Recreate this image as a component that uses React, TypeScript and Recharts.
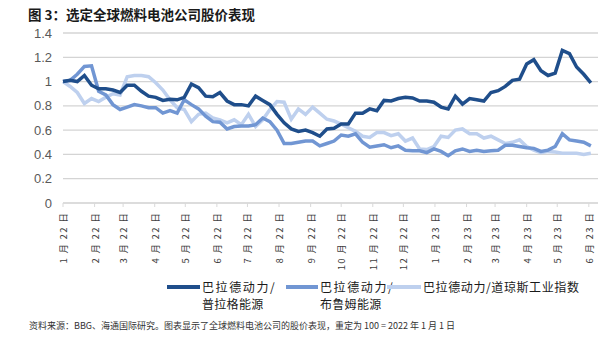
import { LineChart, Line, XAxis, YAxis, CartesianGrid } from 'recharts'

// weekly observations, x = days since 2022-01-01
const weekDays = Array.from({ length: 75 }, (_, i) => i * 7)

const plugPower = [
  1.0, 1.01, 1.0, 1.05, 0.97, 0.94, 0.94, 0.93, 0.91, 0.97,
  0.97, 0.92, 0.88, 0.87, 0.845, 0.855, 0.85, 0.87, 0.98, 0.95,
  0.88, 0.875, 0.91, 0.84, 0.81, 0.81, 0.8, 0.88, 0.845, 0.81,
  0.73, 0.66, 0.61, 0.59, 0.6, 0.58, 0.55, 0.61, 0.615, 0.65,
  0.65, 0.74, 0.74, 0.775, 0.76, 0.845, 0.84, 0.86, 0.87, 0.865,
  0.84, 0.84, 0.83, 0.79, 0.775, 0.88, 0.815, 0.86, 0.85, 0.84,
  0.91, 0.925, 0.96, 1.01, 1.02, 1.145, 1.18, 1.09, 1.05, 1.07,
  1.257, 1.23, 1.12, 1.06, 0.99,
]

const bloomEnergy = [
  1.0, 1.01, 1.06, 1.125, 1.13, 0.92, 0.89, 0.81, 0.77, 0.79,
  0.81, 0.8, 0.785, 0.785, 0.74, 0.76, 0.74, 0.85, 0.81, 0.775,
  0.715, 0.67, 0.665, 0.61, 0.63, 0.635, 0.635, 0.645, 0.7, 0.67,
  0.6, 0.49, 0.49, 0.5, 0.51, 0.51, 0.47, 0.49, 0.51, 0.56,
  0.55, 0.57, 0.5, 0.46, 0.47, 0.48, 0.455, 0.47, 0.435, 0.43,
  0.43, 0.415, 0.445, 0.425, 0.39, 0.43, 0.445, 0.425, 0.435, 0.425,
  0.43, 0.435, 0.475, 0.475, 0.465, 0.455, 0.45, 0.425, 0.435, 0.465,
  0.57, 0.52, 0.51, 0.5, 0.47,
]

const dowJones = [
  1.0, 0.96, 0.91, 0.82, 0.86, 0.835, 0.87, 0.9, 0.89, 1.04,
  1.05, 1.05, 1.04, 0.99, 0.93, 0.85, 0.785, 0.77, 0.67, 0.73,
  0.74, 0.7, 0.685, 0.66, 0.685, 0.645, 0.73, 0.63, 0.685, 0.77,
  0.835, 0.83, 0.69, 0.775, 0.73, 0.79, 0.74, 0.69, 0.675, 0.65,
  0.62, 0.59, 0.55, 0.54, 0.58, 0.58, 0.555, 0.57, 0.51, 0.535,
  0.445, 0.44, 0.465, 0.55, 0.54, 0.6, 0.61, 0.57, 0.57, 0.535,
  0.55, 0.52, 0.49, 0.5, 0.52, 0.465, 0.435, 0.415, 0.425, 0.42,
  0.41, 0.41, 0.41, 0.4, 0.41,
]

const monthTicks = [0, 31, 59, 90, 120, 151, 181, 212, 243, 273, 304, 334, 365, 396, 424, 455, 485, 516]
const monthLabels = [
  '1 月 22 日', '2 月 22 日', '3 月 22 日', '4 月 22 日', '5 月 22 日', '6 月 22 日',
  '7 月 22 日', '8 月 22 日', '9 月 22 日', '10 月 22 日', '11 月 22 日', '12 月 22 日',
  '1 月 23 日', '2 月 23 日', '3 月 23 日', '4 月 23 日', '5 月 23 日', '6 月 23 日',
]
const yTicks = [0, 0.2, 0.4, 0.6, 0.8, 1, 1.2, 1.4]

const COLORS = { plug: '#1F4E8B', bloom: '#7196D3', dow: '#BED0EE' }
const CJK = '"Noto Sans CJK SC", "Noto Sans", sans-serif'

const data = weekDays.map((day, i) => ({
  day,
  plug: plugPower[i],
  bloom: bloomEnergy[i],
  dow: dowJones[i],
}))

const MonthTick = ({ x, y, payload }: any) => {
  const label = monthLabels[monthTicks.indexOf(payload.value)]
  return (
    <text
      x={x}
      y={y}
      dy={4}
      transform={`rotate(-90 ${x} ${y})`}
      textAnchor="end"
      fontSize={9.5}
      letterSpacing={1.3}
      fontFamily={CJK}
      fill="#404040"
    >
      {label}
    </text>
  )
}

const legendItems = [
  { color: COLORS.plug, swatch: 167, text: 202, lines: ['巴拉德动力/', '普拉格能源'] },
  { color: COLORS.bloom, swatch: 286, text: 320, lines: ['巴拉德动力/', '布鲁姆能源'] },
  { color: COLORS.dow, swatch: 387, text: 423, lines: ['巴拉德动力/道琼斯工业指数'] },
]

export default function App() {
  return (
    <div style={{ position: 'absolute', left: 0, top: 0, width: 602, height: 356, background: '#fff', overflow: 'hidden' }}>
      <div style={{ position: 'absolute', left: 28, top: 4, fontFamily: CJK, fontSize: 13.5, fontWeight: 700, color: '#1a1a1a', whiteSpace: 'nowrap' }}>
        图 3：选定全球燃料电池公司股价表现
      </div>

      <div style={{ position: 'absolute', left: 0, top: 0 }}>
        <LineChart width={602} height={270} data={data} margin={{ top: 33, right: 4, left: 13, bottom: 0 }}>
          <CartesianGrid horizontal vertical={false} stroke="#d4d4d4" strokeWidth={1.3} />
          <XAxis
            dataKey="day"
            type="number"
            domain={[0, 525]}
            ticks={monthTicks}
            interval={0}
            height={67}
            axisLine={{ stroke: '#d9d9d9' }}
            tickLine={{ stroke: '#d9d9d9' }}
            tickSize={4}
            tickMargin={5}
            tick={<MonthTick />}
          />
          <YAxis
            domain={[0, 1.4]}
            ticks={yTicks}
            width={50}
            axisLine={false}
            tickLine={false}
            tickMargin={5}
            tick={{ fill: '#595959', fontSize: 13, fontFamily: '"Liberation Sans", Arial, sans-serif' }}
          />
          <Line type="linear" dataKey="dow" stroke={COLORS.dow} strokeWidth={3.5} dot={false} isAnimationActive={false} />
          <Line type="linear" dataKey="bloom" stroke={COLORS.bloom} strokeWidth={3.5} dot={false} isAnimationActive={false} />
          <Line type="linear" dataKey="plug" stroke={COLORS.plug} strokeWidth={3.5} dot={false} isAnimationActive={false} />
        </LineChart>
      </div>

      {legendItems.map((item) => (
        <div key={item.swatch}>
          <div style={{ position: 'absolute', left: item.swatch, top: 285, width: item.text - item.swatch - 2, height: 4, background: item.color }} />
          {item.lines.map((line, j) => (
            <div
              key={line}
              style={{
                position: 'absolute',
                left: item.text,
                top: 278 + j * 17,
                fontFamily: CJK,
                fontSize: 12,
                lineHeight: '17px',
                letterSpacing: j === 0 ? (item.lines.length > 1 ? 1.6 : 0.6) : 0.3,
                color: '#1a1a1a',
                whiteSpace: 'nowrap',
              }}
            >
              {line}
            </div>
          ))}
        </div>
      ))}

      <div style={{ position: 'absolute', left: 29, top: 319, fontFamily: CJK, fontSize: 9, color: '#333', whiteSpace: 'nowrap' }}>
        资料来源：BBG、海通国际研究。图表显示了全球燃料电池公司的股价表现，重定为 100 = 2022 年 1 月 1 日
      </div>
    </div>
  )
}
